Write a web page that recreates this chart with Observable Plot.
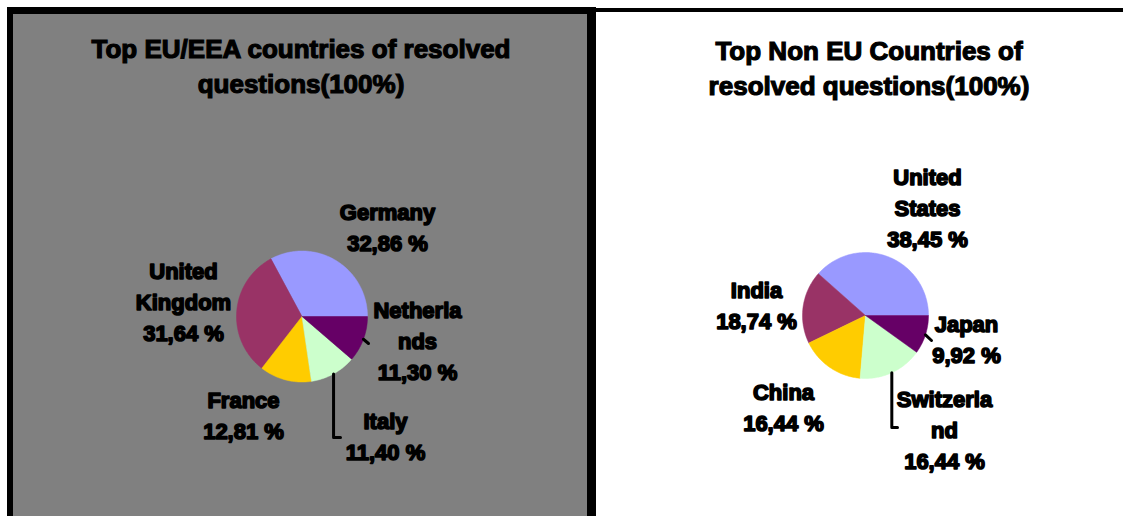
<!DOCTYPE html>
<html><head><meta charset="utf-8">
<script src="https://cdn.jsdelivr.net/npm/d3@7"></script>
<script src="https://cdn.jsdelivr.net/npm/@observablehq/plot@0.6"></script>
<style>
html,body{margin:0;padding:0;background:#fff;}
#page{position:relative;width:1123px;height:516px;overflow:hidden;font-family:"Liberation Sans",Arial,sans-serif;}
#left{position:absolute;left:7px;top:7px;width:574px;height:520px;background:#808080;border-left:6px solid #000;border-top:7px solid #000;border-right:9px solid #000;}
#right{position:absolute;left:596px;top:8px;width:527px;height:520px;border-top:4px solid #000;background:#fff;}
.title{position:absolute;font-weight:bold;font-size:26px;line-height:35px;text-align:center;color:#000;-webkit-text-stroke:1.2px #000;white-space:nowrap;}
#chart{position:absolute;left:0;top:0;}
</style></head>
<body>
<div id="page">
  <div id="left"></div>
  <div id="right"></div>
  <div class="title" id="t1" style="left:51px;width:500px;top:32px;">Top EU/EEA countries of resolved<br>questions(100%)</div>
  <div class="title" id="t2" style="left:619px;width:500px;top:34px;">Top Non EU Countries of<br>resolved questions(100%)</div>
  <div id="chart"></div>
</div>
<script>
// ---- data ----
const euCountries = ["Germany", "United Kingdom", "France", "Italy", "Netherlands"];
const euValues = [32.86, 31.64, 12.81, 11.40, 11.30];
const euLabels = ["Germany\n32,86 %", "United\nKingdom\n31,64 %", "France\n12,81 %", "Italy\n11,40 %", "Netherla\nnds\n11,30 %"];

const nonEuCountries = ["United States", "India", "China", "Switzerland", "Japan"];
const nonEuValues = [38.45, 18.74, 16.44, 16.44, 9.92];
const nonEuLabels = ["United\nStates\n38,45 %", "India\n18,74 %", "China\n16,44 %", "Switzerla\nnd\n16,44 %", "Japan\n9,92 %"];

const sliceColors = ["#9999FF", "#993366", "#FFCC00", "#CCFFCC", "#660066"];

// ---- layout (positions) ----
const pies = [
  {countries: euCountries, values: euValues, labels: euLabels, cx: 301.5, cy: 316, r: 65.5,
   labelPos: [[387, 225], [183, 300], [243, 413], [385, 434], [417, 339]],
   leaders: {3: {bendY: 437, endX: 340}, 4: {end: [368, 343]}}},
  {countries: nonEuCountries, values: nonEuValues, labels: nonEuLabels, cx: 865, cy: 315, r: 63,
   labelPos: [[927, 206], [756, 303], [783, 405], [944, 428], [966, 337]],
   leaders: {3: {bendY: 427, endX: 897}, 4: {end: [931, 340]}}}
];

const marks = [];
for (const p of pies) {
  const total = d3.sum(p.values);
  let acc = 0;
  const slices = p.values.map((v, i) => {
    const a0 = acc / total * 2 * Math.PI;
    acc += v;
    const a1 = acc / total * 2 * Math.PI;
    return {i, country: p.countries[i], value: v, a0, a1};
  });
  const pt = (a, r) => [p.cx + r * Math.cos(a), p.cy - r * Math.sin(a)];
  for (const s of slices) {
    const n = Math.max(2, Math.ceil((s.a1 - s.a0) / (Math.PI / 180)));
    const pts = [[p.cx, p.cy]];
    for (let k = 0; k <= n; k++) pts.push(pt(s.a0 + (s.a1 - s.a0) * k / n, p.r));
    pts.push([p.cx, p.cy]);
    marks.push(Plot.line(pts, {x: d => d[0], y: d => d[1], fill: sliceColors[s.i], stroke: sliceColors[s.i], strokeWidth: 0.5, curve: "linear"}));
    const L = p.leaders[s.i];
    if (L) {
      const e = pt((s.a0 + s.a1) / 2, p.r);
      const lp = L.end ? [e, L.end] : [e, [e[0], L.bendY], [L.endX, L.bendY]];
      marks.push(Plot.line(lp, {x: d => d[0], y: d => d[1], stroke: "#000", strokeWidth: 3, curve: "linear"}));
    }
  }
  const lab = p.labels.map((t, i) => ({text: t, x: p.labelPos[i][0], y: p.labelPos[i][1]}));
  marks.push(Plot.text(lab, {x: "x", y: "y", text: "text", fontSize: 22, fontWeight: "bold", lineHeight: 1.41,
    fill: "#000", stroke: "#000", strokeWidth: 1.6, textAnchor: "middle", fontFamily: "Liberation Sans, Arial, sans-serif"}));
}

const chart = Plot.plot({
  width: 1123, height: 516,
  margin: 0,
  x: {domain: [0, 1123], range: [0, 1123], axis: null},
  y: {domain: [0, 516], range: [0, 516], axis: null},
  style: {background: "transparent", overflow: "visible"},
  marks
});
document.getElementById("chart").appendChild(chart);
</script>
</body></html>
